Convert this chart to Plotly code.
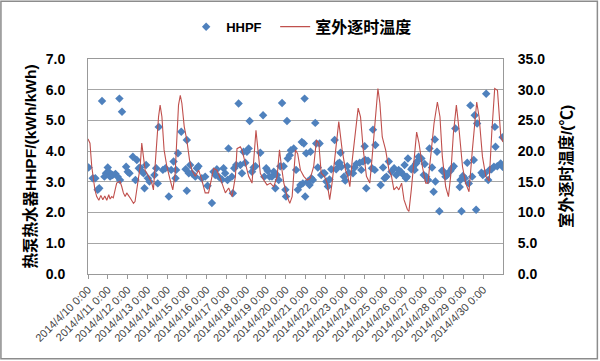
import plotly.graph_objects as go

# ---- data ----
tick_labels = [f"2014/4/{d} 0:00" for d in range(10, 31)]
tick_days = list(range(0, 21))

# outdoor hourly temperature (day offset from 2014/4/10 0:00, degC)
temp_day = [0.0, 0.1, 0.19, 0.35, 0.44, 0.55, 0.65, 0.75, 0.85, 0.95, 1.05, 1.12, 1.2, 1.28, 1.45, 1.62, 1.71,
            1.79, 1.88, 1.96, 2.13, 2.3, 2.38, 2.47, 2.55, 2.64, 2.72, 2.81, 2.89, 3.06, 3.23, 3.31, 3.4, 3.48,
            3.57, 3.65, 3.74, 3.85, 3.99, 4.16, 4.29, 4.41, 4.5, 4.58, 4.67, 4.75, 4.87, 5.0, 5.14, 5.26, 5.43,
            5.6, 5.76, 5.93, 6.1, 6.19, 6.36, 6.52, 6.69, 6.95, 7.12, 7.29, 7.46, 7.54, 7.71, 7.79, 7.96, 8.13,
            8.3, 8.38, 8.5, 8.6, 8.72, 8.89, 9.06, 9.23, 9.4, 9.57, 9.69, 9.79, 9.91, 10.08, 10.21, 10.33, 10.41,
            10.5, 10.61, 10.75, 10.92, 11.09, 11.25, 11.42, 11.56, 11.68, 11.8, 11.96, 12.1, 12.23, 12.35, 12.52,
            12.69, 12.86, 13.03, 13.15, 13.25, 13.37, 13.54, 13.67, 13.79, 13.93, 14.09, 14.26, 14.38, 14.55,
            14.67, 14.77, 14.89, 15.06, 15.23, 15.36, 15.48, 15.62, 15.73, 15.87, 15.99, 16.16, 16.24, 16.36,
            16.49, 16.63, 16.75, 16.92, 17.09, 17.2, 17.34, 17.51, 17.68, 17.81, 17.93, 18.1, 18.24, 18.35,
            18.49, 18.64, 18.78, 18.95, 19.11, 19.28, 19.45, 19.59, 19.67, 19.79, 19.96, 20.13, 20.3, 20.43,
            20.58, 20.72, 20.8, 20.89, 21.0]
temp_val = [22.0, 21.3, 17.5, 13.7, 12.6, 12.0, 12.8, 12.1, 12.7, 12.0, 12.9, 12.2, 12.6, 12.4, 14.8, 15.1, 14.2,
            13.2, 12.6, 13.2, 12.4, 11.5, 11.8, 13.7, 14.8, 17.5, 21.3, 19.1, 16.9, 15.9, 14.8, 13.7, 17.5, 22.3,
            25.6, 27.5, 25.6, 20.2, 17.5, 15.3, 13.7, 16.4, 22.9, 27.5, 29.1, 27.8, 24.0, 21.8, 18.5, 16.9, 15.9,
            16.9, 15.3, 13.2, 13.2, 14.8, 17.2, 16.9, 15.6, 13.2, 14.0, 12.6, 15.9, 20.4, 20.7, 20.2, 18.0, 15.9,
            14.8, 18.0, 23.4, 20.2, 16.4, 15.3, 14.5, 14.8, 14.2, 15.9, 20.2, 17.5, 14.8, 12.6, 11.5, 12.6, 16.9,
            20.2, 19.6, 16.9, 15.9, 15.3, 15.6, 17.5, 21.8, 21.3, 16.4, 15.9, 14.8, 12.1, 14.8, 20.2,
            24.8, 20.2, 16.9, 15.9, 14.2, 18.5, 24.0, 27.0, 25.6, 20.2, 15.9, 14.8, 19.1, 25.6,
            30.2, 27.8, 22.3, 20.2, 16.9, 15.9, 13.7, 14.2, 13.7, 14.8, 12.1, 10.5, 10.2, 13.7,
            18.5, 23.1, 21.3, 17.5, 14.8, 14.8, 19.1, 24.5, 28.0, 25.6, 19.1, 14.2, 12.6, 15.9,
            22.9, 27.5, 23.4, 17.5, 14.8, 13.4, 20.2, 26.1, 28.0, 25.6, 19.1, 15.9, 15.1, 22.9,
            30.2, 29.9, 25.6, 22.3, 21.5]

# HHPF (kWh/kWh)
hhpf_day = [0.03, 0.24, 0.37, 0.49, 0.57, 0.71, 0.83, 0.91, 1.0, 1.05, 1.12, 1.25, 1.39, 1.5, 1.59, 1.62, 1.72,
            1.93, 2.01, 2.1, 2.27, 2.4, 2.47, 2.57, 2.64, 2.74, 2.81, 2.86, 2.94, 3.03, 3.11, 3.36, 3.45, 3.53,
            3.58, 3.79, 3.92, 4.09, 4.21, 4.33, 4.43, 4.46, 4.55, 4.72, 4.94, 5.0, 5.0, 5.1, 5.17, 5.26, 5.43,
            5.51, 5.59, 5.76, 5.93, 6.05, 6.27, 6.35, 6.44, 6.52, 6.61, 6.78, 6.86, 6.94, 7.06, 7.11, 7.28, 7.33,
            7.4, 7.5, 7.62, 7.71, 7.79, 7.87, 7.96, 8.04, 8.13, 8.18, 8.3, 8.38, 8.47, 8.72, 8.86, 8.92, 9.02,
            9.09, 9.19, 9.31, 9.4, 9.48, 9.56, 9.65, 9.73, 9.82, 9.9, 9.99, 10.02, 10.07, 10.11, 10.21, 10.27,
            10.41, 10.53, 10.62, 10.75, 10.82, 10.87, 10.92, 10.96, 10.99, 11.04, 11.13, 11.21, 11.26, 11.3,
            11.38, 11.5, 11.55, 11.63, 11.72, 11.8, 11.89, 11.97, 12.06, 12.14, 12.22, 12.31, 12.48, 12.56,
            12.65, 12.73, 12.78, 12.82, 12.95, 13.02, 13.12, 13.19, 13.41, 13.49, 13.58, 13.75, 13.83, 13.92,
            14.0, 14.03, 14.08, 14.17, 14.37, 14.42, 14.51, 14.54, 14.81, 14.93, 15.01, 15.1, 15.22, 15.35,
            15.49, 15.6, 15.72, 15.83, 15.97, 16.02, 16.09, 16.14, 16.19, 16.36, 16.43, 16.53, 16.6, 16.65,
            16.73, 16.87, 16.99, 17.04, 17.11, 17.21, 17.28, 17.41, 17.49, 17.55, 17.58, 17.66, 17.78, 17.92,
            18.0, 18.09, 18.17, 18.34, 18.42, 18.51, 18.59, 18.81, 18.85, 18.9, 18.97, 19.07, 19.19, 19.27,
            19.35, 19.44, 19.52, 19.57, 19.64, 19.69, 19.91, 19.98, 20.08, 20.15, 20.25, 20.32, 20.42, 20.54,
            20.59, 20.62, 20.71, 20.88, 20.98, 20.98]
hhpf_val = [3.47, 3.12, 3.12, 2.74, 2.79, 5.63, 3.17, 3.28, 3.47, 3.33, 3.17, 3.22, 3.26, 3.17, 5.71, 3.06, 5.28,
            3.49, 3.33, 3.28, 3.82, 3.06, 3.71, 3.44, 3.47, 3.33, 3.28, 2.79, 3.55, 3.12, 3.01, 3.22, 3.44, 2.95,
            4.79, 3.39, 3.44, 2.52, 3.39, 3.66, 3.12, 3.39, 3.93, 4.63, 3.41, 4.36, 2.71, 3.28, 3.55, 3.28, 3.17,
            3.44, 3.51, 3.12, 3.17, 2.87, 2.31, 3.33, 3.22, 3.41, 3.17, 3.08, 3.44, 3.28, 3.06, 4.09, 3.17, 2.63,
            3.44, 3.55, 5.55, 3.55, 3.28, 3.98, 3.62, 3.98, 4.09, 4.98, 3.33, 3.47, 3.51, 3.95, 5.17, 3.17, 3.44,
            3.36, 3.17, 3.17, 3.33, 2.79, 3.22, 3.06, 3.51, 5.57, 3.51, 2.74, 2.52, 4.98, 3.76, 3.87, 4.03,
            4.09, 3.39, 2.74, 2.9, 4.3, 2.95, 4.25, 5.71, 2.52, 3.93, 3.01, 2.9, 3.98, 3.12,
            3.06, 4.92, 4.25, 3.47, 4.25, 3.22, 3.28, 3.28, 3.01, 2.85, 3.08, 3.41, 4.36, 3.41,
            3.6, 3.62, 3.95, 3.49, 3.17, 3.04, 3.51, 3.3, 3.28, 3.47, 3.58, 3.62, 3.39, 3.66,
            4.16, 3.71, 2.79, 3.69, 3.44, 4.7, 3.39, 4.2, 2.9, 3.47, 3.12, 3.17, 3.66, 3.33,
            3.44, 3.22, 3.39, 3.33, 3.22, 3.55, 3.12, 3.17, 3.76, 3.41, 3.47, 3.39, 3.6, 3.66,
            3.82, 3.76, 3.22, 3.58, 3.17, 3.06, 4.09, 3.47, 2.68, 4.38, 3.01, 3.98, 2.04, 3.36,
            3.33, 3.17, 3.22, 3.36, 3.44, 3.51, 4.74, 2.83, 3.06, 2.04, 3.19, 3.12, 3.62, 2.95,
            5.49, 3.17, 3.71, 5.17, 2.09, 4.9, 3.3, 3.22, 3.28, 5.87, 3.06, 3.39, 3.41, 3.49,
            4.79, 4.14, 3.51, 3.6, 4.45, 3.49]

# ---- figure ----
FONT = "Liberation Sans, Arial, Noto Sans CJK SC, sans-serif"
fig = go.Figure()
fig.add_trace(go.Scatter(
    x=hhpf_day, y=hhpf_val, mode="markers", name="HHPF", legend="legend",
    marker=dict(symbol="diamond", size=6.5, color="#4F81BD"),
))
fig.add_trace(go.Scatter(
    x=temp_day, y=temp_val, mode="lines", name="室外逐时温度", yaxis="y2", legend="legend2",
    line=dict(color="#C0504D", width=1.1),
))

fig.update_layout(
    width=600, height=361,
    margin=dict(l=88, r=97, t=59, b=87, autoexpand=False),
    paper_bgcolor="white", plot_bgcolor="white",
    font=dict(family=FONT, color="#000000"),
    showlegend=True,
    legend=dict(orientation="h", x=0.2365, xanchor="left", y=1.15, yanchor="middle",
                font=dict(size=13, family=FONT, weight="bold"), itemwidth=30,
                bgcolor="rgba(0,0,0,0)"),
    legend2=dict(orientation="h", x=0.451, xanchor="left", y=1.15, yanchor="middle",
                 font=dict(size=16, family=FONT, weight="bold"), itemwidth=30,
                 bgcolor="rgba(0,0,0,0)"),
    xaxis=dict(
        range=[0, 21], tickmode="array", tickvals=tick_days, ticktext=tick_labels,
        tickangle=-45, tickfont=dict(size=11, color="#444444"),
        ticks="outside", ticklen=4, tickcolor="#999999",
        showgrid=False, zeroline=False, automargin=False,
        showline=True, linecolor="#999999", linewidth=1, mirror=True,
    ),
    yaxis=dict(
        range=[0, 7], dtick=1, tickformat=".1f", automargin=False,
        tickfont=dict(size=14, weight="bold"), ticks="", ticklabelstandoff=19,
        showgrid=True, gridcolor="#A6A6A6", gridwidth=1, zeroline=False,
        showline=True, linecolor="#999999", linewidth=1,
        title=dict(text="热泵热水器HHPF/(kWh/kWh)", font=dict(size=15.5, weight="bold"), standoff=5),
    ),
    yaxis2=dict(
        range=[0, 35], dtick=5, tickformat=".1f", overlaying="y", side="right", automargin=False,
        tickfont=dict(size=14, weight="bold"), ticks="", ticklabelstandoff=11,
        showgrid=False, zeroline=False,
        showline=True, linecolor="#999999", linewidth=1,
        title=dict(text="室外逐时温度/(℃)", font=dict(size=15.5, weight="bold"), standoff=16),
    ),
    shapes=[dict(type="rect", xref="paper", yref="paper",
                 x0=-87/414.7, x1=509/414.7, y0=-85/215.5, y1=1 + 58/215.5,
                 line=dict(color="#8C8C8C", width=1.5))],
)

fig.write_html("out.html", post_script="document.body.style.margin='0';",
               config={"displayModeBar": False})
